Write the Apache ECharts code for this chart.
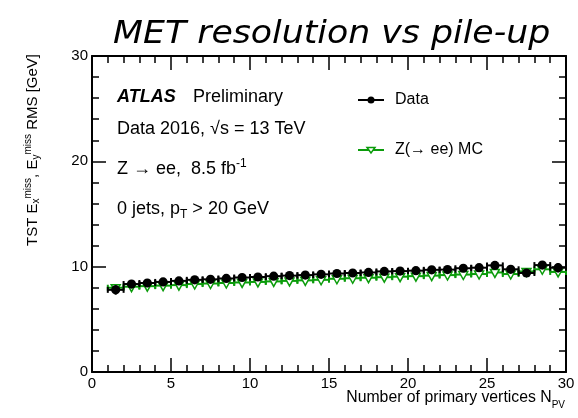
<!DOCTYPE html>
<html>
<head>
<meta charset="utf-8">
<script src="https://cdn.jsdelivr.net/npm/echarts@6/dist/echarts.min.js"></script>
<style>html,body{margin:0;padding:0;background:#fff}#c{width:578px;height:418px}</style>
</head>
<body>
<div id="c"></div>
<script>
// Bin centres (number of primary vertices)
const nPV = [1.5,2.5,3.5,4.5,5.5,6.5,7.5,8.5,9.5,10.5,11.5,12.5,13.5,14.5,15.5,16.5,17.5,18.5,19.5,20.5,21.5,22.5,23.5,24.5,25.5,26.5,27.5,28.5,29.5];
// Data RMS [GeV]
const dataRMS = [7.8,8.35,8.45,8.55,8.65,8.75,8.8,8.88,8.97,9.02,9.1,9.15,9.2,9.27,9.35,9.4,9.45,9.55,9.58,9.62,9.7,9.72,9.85,9.9,10.12,9.75,9.4,10.15,9.9];
const dataErr = [0.45,0.1,0.08,0.06,0.05,0.05,0.05,0.05,0.05,0.05,0.05,0.05,0.05,0.05,0.05,0.06,0.06,0.07,0.08,0.09,0.1,0.11,0.13,0.15,0.18,0.2,0.25,0.3,0.45];
// Z(->ee) MC RMS [GeV]
const mcRMS = [8.0,8.1,8.15,8.2,8.25,8.35,8.4,8.45,8.5,8.55,8.6,8.65,8.7,8.75,8.85,8.9,8.95,9.0,9.05,9.1,9.15,9.2,9.25,9.3,9.45,9.3,9.55,9.75,9.5];
const mcErr = [0.1,0.05,0.04,0.03,0.03,0.03,0.03,0.03,0.03,0.03,0.03,0.03,0.03,0.03,0.03,0.03,0.03,0.03,0.04,0.04,0.05,0.05,0.06,0.07,0.08,0.09,0.1,0.12,0.15];
// Axis ticks
const xTicks = {min:0, max:30, interval:5};
const yTicks = {min:0, max:30, interval:10};

const GREEN = '#0b9c0b';
const FONT = '"Liberation Sans", Arial, Helvetica, sans-serif';

function makeRender(color, marker) {
  return function (params, api) {
    const x = api.value(0), y = api.value(1), e = api.value(2);
    const l = api.coord([x - 0.5, y]), r = api.coord([x + 0.5, y]);
    const c = api.coord([x, y]);
    const t = api.coord([x, y + e]), b = api.coord([x, y - e]);
    const ls = {stroke: color, lineWidth: 2};
    const ch = [
      {type:'line', shape:{x1:l[0], y1:l[1], x2:r[0], y2:r[1]}, style:ls},
      {type:'line', shape:{x1:l[0], y1:l[1]-3, x2:l[0], y2:l[1]+3}, style:ls},
      {type:'line', shape:{x1:r[0], y1:r[1]-3, x2:r[0], y2:r[1]+3}, style:ls},
      {type:'line', shape:{x1:t[0], y1:t[1], x2:b[0], y2:b[1]}, style:ls}
    ];
    if (marker === 'circle') {
      ch.push({type:'circle', shape:{cx:c[0], cy:c[1], r:4.6}, style:{fill:color}});
    } else {
      ch.push({type:'polygon', shape:{points:[[c[0]-4.5,c[1]-3],[c[0]+4.5,c[1]-3],[c[0],c[1]+5]]}, style:{fill:'#fff', stroke:color, lineWidth:1.5}});
    }
    return {type:'group', children: ch};
  };
}

const axisCommon = {
  axisLine:{show:true, onZero:false, lineStyle:{color:'#000', width:2}},
  splitLine:{show:false},
  minorTick:{show:true, splitNumber:5, length:7, lineStyle:{color:'#000', width:1.5}},
  axisTick:{show:true, inside:true, length:14, lineStyle:{color:'#000', width:1.5}}
};

const chart = echarts.init(document.getElementById('c'));
chart.setOption({
  animation:false,
  backgroundColor:'#fff',
  grid:{left:92, right:12, top:56, bottom:46},
  xAxis:[
    Object.assign({type:'value', min:xTicks.min, max:xTicks.max, interval:xTicks.interval, position:'bottom',
      axisLabel:{color:'#000', fontFamily:FONT, fontSize:15, margin:4}}, axisCommon),
    Object.assign({type:'value', min:xTicks.min, max:xTicks.max, interval:xTicks.interval, position:'top',
      axisLabel:{show:false}}, axisCommon)
  ],
  yAxis:[
    Object.assign({type:'value', min:yTicks.min, max:yTicks.max, interval:yTicks.interval, position:'left',
      axisLabel:{color:'#000', fontFamily:FONT, fontSize:15, margin:4}}, axisCommon),
    Object.assign({type:'value', min:yTicks.min, max:yTicks.max, interval:yTicks.interval, position:'right',
      axisLabel:{show:false}}, axisCommon)
  ],
  series:[
    {type:'custom', name:'Z(→ ee) MC', renderItem:makeRender(GREEN,'tri'),
     data:nPV.map((x,i)=>[x, mcRMS[i], mcErr[i]]), z:2},
    {type:'custom', name:'Data', renderItem:makeRender('#000','circle'),
     data:nPV.map((x,i)=>[x, dataRMS[i], dataErr[i]]), z:3}
  ],
  graphic:[
    {type:'text', x:113, y:35, scaleX:1.085,
     style:{text:'MET resolution vs pile-up', font:'italic 32px "DejaVu Sans", sans-serif', fill:'#000', align:'left', verticalAlign:'middle'}},
    {type:'text', x:33, y:54, rotation:Math.PI/2,
     style:{text:'TST E{sub|x}{sup|miss}, E{sub|y}{sup|miss} RMS [GeV]', align:'right', verticalAlign:'middle',
       font:'15px ' + FONT, fill:'#000',
       rich:{sup:{fontSize:10, fontFamily:FONT, padding:[0,0,9,0], fill:'#000'}, sub:{fontSize:10, fontFamily:FONT, padding:[7,0,0,0], fill:'#000'}}}},
    {type:'text', x:565, y:398,
     style:{text:'Number of primary vertices N{sub|PV}', align:'right', verticalAlign:'middle',
       font:'15.8px ' + FONT, fill:'#000',
       rich:{sub:{fontSize:10, fontFamily:FONT, padding:[15,0,0,0], fill:'#000'}}}},
    {type:'text', x:117, y:97, style:{text:'ATLAS', font:'italic bold 18px ' + FONT, fill:'#000', verticalAlign:'middle'}},
    {type:'text', x:193, y:97, style:{text:'Preliminary', font:'18px ' + FONT, fill:'#000', verticalAlign:'middle'}},
    {type:'text', x:117, y:129, style:{text:'Data 2016, √s = 13 TeV', font:'18px ' + FONT, fill:'#000', verticalAlign:'middle'}},
    {type:'text', x:117, y:169, style:{text:'Z → ee,  8.5 fb{sup|-1}', font:'18px ' + FONT, fill:'#000', verticalAlign:'middle',
       rich:{sup:{fontSize:12, fontFamily:FONT, padding:[0,0,10,0], fill:'#000'}}}},
    {type:'text', x:117, y:209, style:{text:'0 jets, p{sub|T} > 20 GeV', font:'18px ' + FONT, fill:'#000', verticalAlign:'middle',
       rich:{sub:{fontSize:12, fontFamily:FONT, padding:[12,0,0,0], fill:'#000'}}}},
    {type:'line', shape:{x1:358, y1:100, x2:384, y2:100}, style:{stroke:'#000', lineWidth:2}},
    {type:'circle', shape:{cx:371, cy:100, r:3.5}, style:{fill:'#000'}},
    {type:'text', x:395, y:100, style:{text:'Data', font:'16px ' + FONT, fill:'#000', verticalAlign:'middle'}},
    {type:'line', shape:{x1:358, y1:150, x2:384, y2:150}, style:{stroke:GREEN, lineWidth:2}},
    {type:'polygon', shape:{points:[[367,147.5],[375,147.5],[371,153]]}, style:{fill:'#fff', stroke:GREEN, lineWidth:1.5}},
    {type:'text', x:395, y:150, style:{text:'Z(→ ee) MC', font:'16px ' + FONT, fill:'#000', verticalAlign:'middle'}}
  ]
});
</script>
</body>
</html>
